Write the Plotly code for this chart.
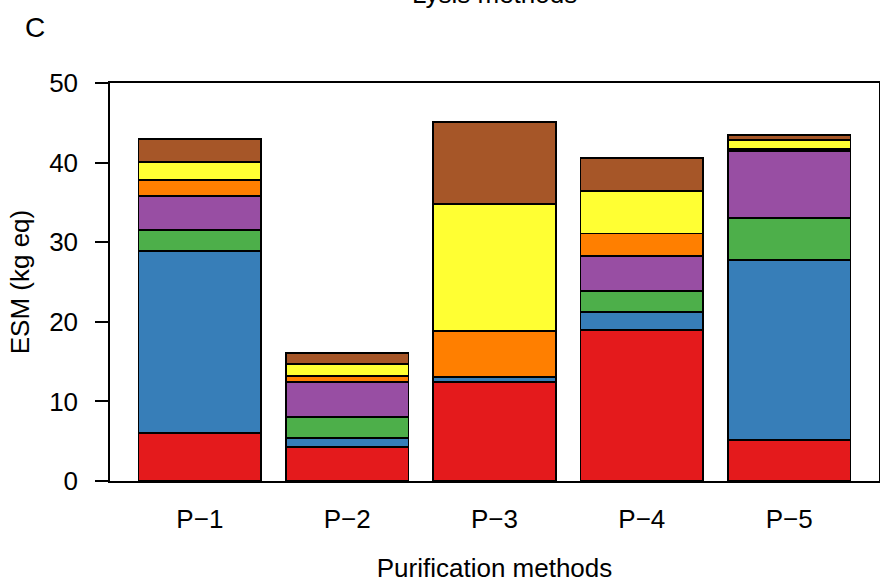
import plotly.graph_objects as go

categories = ["P\u22121", "P\u22122", "P\u22123", "P\u22124", "P\u22125"]

red_vals = [6.07, 4.31, 12.4, 18.97, 5.15]
blue_vals = [22.86, 1.13, 0.7, 2.22, 22.61]
green_vals = [2.64, 2.64, 0.0, 2.68, 5.24]
purple_vals = [4.27, 4.32, 0.0, 4.40, 8.5]
orange_vals = [1.97, 0.79, 5.7, 2.83, 0.25]
yellow_vals = [2.30, 1.51, 15.96, 5.37, 1.09]
brown_vals = [2.85, 1.42, 10.3, 4.07, 0.63]

series = [
    ("Red", red_vals, "#E41A1C"),
    ("Blue", blue_vals, "#377EB8"),
    ("Green", green_vals, "#4DAF4A"),
    ("Purple", purple_vals, "#984EA3"),
    ("Orange", orange_vals, "#FF7F00"),
    ("Yellow", yellow_vals, "#FFFF33"),
    ("Brown", brown_vals, "#A65628"),
]

FONT = "Liberation Sans, Arial, sans-serif"
FS = 26

fig = go.Figure()
for name, vals, col in series:
    fig.add_trace(go.Bar(
        x=categories, y=vals, name=name,
        marker=dict(color=col, line=dict(color="black", width=1.8)),
        showlegend=False,
    ))

fig.update_layout(
    barmode="stack",
    bargap=1 - 1 / 1.2,
    width=880, height=583,
    margin=dict(l=110, r=1, t=83, b=102, autoexpand=False),
    paper_bgcolor="white", plot_bgcolor="white",
    font=dict(family=FONT, size=FS, color="black"),
    xaxis=dict(
        range=[-0.61, 4.61], automargin=False,
        showline=True, linecolor="black", linewidth=1.5, mirror=True,
        ticks="", showgrid=False, zeroline=False,
        tickfont=dict(size=FS), ticklabelstandoff=14,
        title=dict(text="Purification methods", font=dict(size=FS), standoff=29),
    ),
    yaxis=dict(
        range=[0, 50], tickvals=[0, 10, 20, 30, 40, 50], automargin=False,
        showline=True, linecolor="black", linewidth=1.5, mirror=True,
        ticks="outside", ticklen=13, tickwidth=1.5, tickcolor="black",
        showgrid=False, zeroline=False,
        tickfont=dict(size=FS), ticklabelstandoff=12,
        title=dict(text="ESM (kg eq)", font=dict(size=FS), standoff=12),
    ),
    annotations=[
        dict(text="Lysis methods", xref="paper", yref="paper", x=0.5, y=1.223,
             xanchor="center", yanchor="middle", showarrow=False, font=dict(size=FS)),
        dict(text="C", xref="paper", yref="paper", x=-0.0975, y=1.1407,
             xanchor="center", yanchor="middle", showarrow=False, font=dict(size=28)),
    ],
)

fig.write_html(
    "out.html",
    config={"displayModeBar": False},
    post_script="document.body.style.margin='0';document.body.style.overflow='hidden';",
)
